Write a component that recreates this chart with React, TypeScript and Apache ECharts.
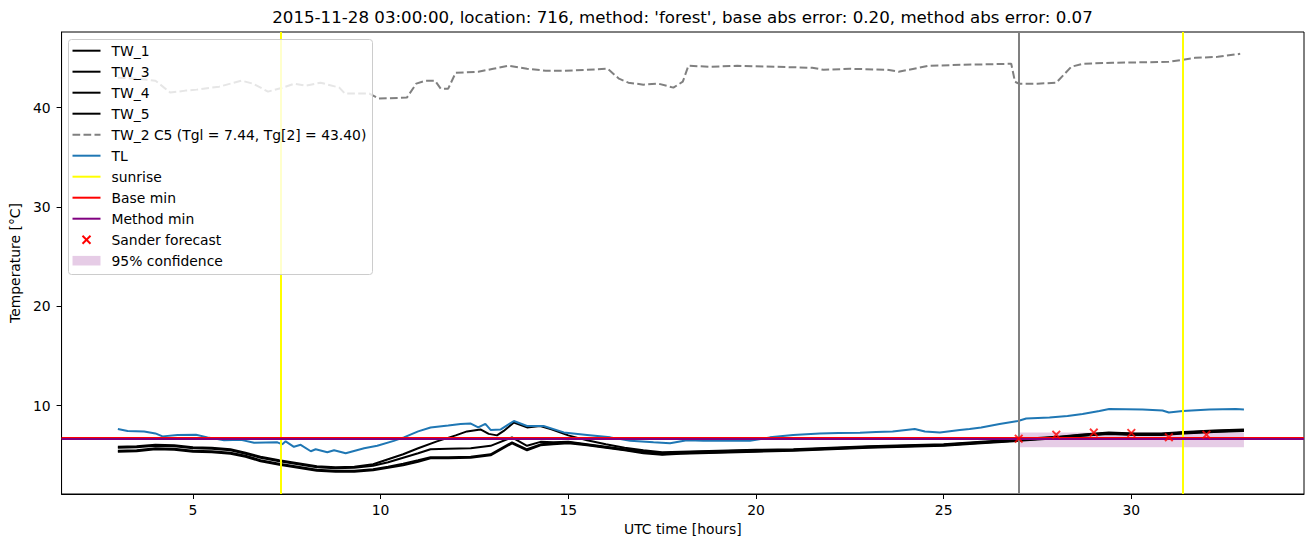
import React, { useEffect, useRef } from 'react';
import * as echarts from 'echarts';

type Pt = [number, number];

// ---- data (hours, °C) ----
const tw1: Pt[] = [[3.0,5.85],[3.5,5.9],[4.0,6.05],[4.5,6.0],[5.0,5.8],[5.5,5.75],[6.0,5.6],[6.4,5.25],[6.8,4.85],[7.3,4.5],[7.8,4.2],[8.3,3.9],[8.8,3.8],[9.3,3.85],[9.8,4.1],[10.2,4.6],[10.6,5.1],[11.0,5.7],[11.5,6.4],[12.0,7.0],[12.3,7.4],[12.66,7.6],[12.88,7.15],[13.1,7.0],[13.28,7.45],[13.55,8.3],[13.9,7.8],[14.25,7.95],[14.55,7.6],[15.0,7.0],[15.5,6.5],[16.0,6.1],[16.5,5.75],[17.0,5.5],[17.5,5.3],[18.0,5.35],[19.0,5.45],[20.0,5.55],[21.0,5.6],[22.0,5.75],[23.0,5.9],[24.0,6.0],[25.0,6.1],[26.0,6.35],[27.0,6.6],[28.0,6.85],[28.7,7.1],[29.4,7.3],[30.1,7.2],[30.8,7.2],[31.4,7.35],[32.2,7.5],[33.0,7.6]];
const tw3: Pt[] = [[3.0,5.75],[3.5,5.8],[4.0,5.95],[4.5,5.9],[5.0,5.7],[5.5,5.65],[6.0,5.5],[6.4,5.15],[6.8,4.75],[7.3,4.4],[7.8,4.1],[8.3,3.8],[8.8,3.7],[9.3,3.75],[9.8,3.95],[10.2,4.3],[10.6,4.75],[11.0,5.2],[11.33,5.6],[11.8,5.65],[12.4,5.7],[12.93,5.95],[13.5,6.8],[13.9,5.95],[14.26,6.35],[14.6,6.3],[15.0,6.35],[15.5,6.1],[16.0,5.85],[16.5,5.6],[17.0,5.4],[17.5,5.2],[18.0,5.3],[19.0,5.4],[20.0,5.5],[21.0,5.55],[22.0,5.7],[23.0,5.85],[24.0,5.95],[25.0,6.05],[26.0,6.3],[27.0,6.55],[28.0,6.8],[28.7,7.05],[29.4,7.25],[30.1,7.15],[30.8,7.15],[31.4,7.3],[32.2,7.45],[33.0,7.55]];
const tw4: Pt[] = [[3.0,5.45],[3.5,5.5],[4.0,5.7],[4.5,5.65],[5.0,5.45],[5.5,5.4],[6.0,5.25],[6.4,4.95],[6.8,4.5],[7.3,4.15],[7.8,3.85],[8.3,3.55],[8.8,3.45],[9.3,3.45],[9.8,3.6],[10.2,3.85],[10.6,4.15],[11.0,4.5],[11.33,4.8],[11.8,4.8],[12.4,4.85],[12.93,5.1],[13.5,6.3],[13.9,5.6],[14.26,6.1],[14.6,6.2],[15.0,6.3],[15.5,6.05],[16.0,5.8],[16.5,5.55],[17.0,5.3],[17.5,5.1],[18.0,5.2],[19.0,5.3],[20.0,5.4],[21.0,5.5],[22.0,5.65],[23.0,5.8],[24.0,5.9],[25.0,6.0],[26.0,6.25],[27.0,6.5],[28.0,6.75],[28.7,7.0],[29.4,7.2],[30.1,7.1],[30.8,7.1],[31.4,7.25],[32.2,7.4],[33.0,7.5]];
const tw5: Pt[] = [[3.0,5.35],[3.5,5.4],[4.0,5.6],[4.5,5.55],[5.0,5.35],[5.5,5.3],[6.0,5.15],[6.4,4.85],[6.8,4.4],[7.3,4.05],[7.8,3.75],[8.3,3.45],[8.8,3.35],[9.3,3.35],[9.8,3.5],[10.2,3.75],[10.6,4.0],[11.0,4.35],[11.33,4.7],[11.8,4.7],[12.4,4.75],[12.93,5.0],[13.5,6.2],[13.9,5.5],[14.26,6.0],[14.6,6.1],[15.0,6.2],[15.5,6.0],[16.0,5.75],[16.5,5.5],[17.0,5.2],[17.5,5.05],[18.0,5.15],[19.0,5.25],[20.0,5.35],[21.0,5.45],[22.0,5.6],[23.0,5.75],[24.0,5.85],[25.0,5.95],[26.0,6.2],[27.0,6.45],[28.0,6.7],[28.7,6.95],[29.4,7.15],[30.1,7.05],[30.8,7.05],[31.4,7.2],[32.2,7.35],[33.0,7.45]];
const tw2: Pt[] = [[3.0,43.0],[3.5,42.9],[4.0,42.7],[4.4,41.5],[4.8,41.7],[5.1,41.8],[5.7,42.1],[6.3,42.7],[6.6,42.4],[7.0,41.6],[7.4,42.0],[7.7,42.4],[8.0,42.2],[8.4,42.5],[8.9,42.0],[9.05,41.4],[9.7,41.4],[9.95,40.9],[10.7,41.0],[10.95,42.4],[11.2,42.7],[11.45,42.7],[11.6,41.9],[11.8,41.9],[12.0,43.5],[12.6,43.6],[13.0,43.9],[13.4,44.2],[13.9,43.9],[14.4,43.7],[14.9,43.7],[15.5,43.8],[16.05,43.9],[16.35,42.9],[16.6,42.5],[17.0,42.3],[17.4,42.4],[17.8,42.0],[18.05,42.6],[18.2,44.2],[18.8,44.1],[19.5,44.2],[20.5,44.1],[21.5,44.0],[21.8,43.8],[22.5,43.9],[23.5,43.8],[23.8,43.6],[24.6,44.2],[25.5,44.3],[26.8,44.4],[26.9,42.6],[27.0,42.4],[27.5,42.4],[28.0,42.5],[28.4,44.1],[28.7,44.4],[29.5,44.5],[31.0,44.6],[31.7,45.0],[32.3,45.1],[32.9,45.4]];
const tl: Pt[] = [[3.0,7.65],[3.26,7.45],[3.7,7.4],[4.0,7.2],[4.19,6.9],[4.59,7.05],[5.08,7.07],[5.39,6.8],[5.83,6.5],[6.28,6.55],[6.63,6.25],[7.25,6.3],[7.38,6.1],[7.47,6.4],[7.69,5.85],[7.87,6.05],[8.14,5.4],[8.27,5.6],[8.58,5.3],[8.76,5.5],[9.07,5.2],[9.56,5.7],[9.91,5.95],[10.35,6.45],[10.62,6.8],[11.0,7.4],[11.33,7.8],[11.8,8.0],[12.13,8.15],[12.39,8.2],[12.6,7.8],[12.79,8.15],[12.93,7.55],[13.2,7.6],[13.55,8.45],[13.9,7.95],[14.34,7.95],[14.88,7.3],[15.5,7.05],[16.12,6.8],[16.65,6.45],[17.27,6.3],[17.71,6.2],[18.16,6.5],[18.6,6.45],[19.2,6.45],[19.84,6.45],[20.37,6.8],[20.99,7.05],[21.7,7.2],[22.2,7.25],[22.77,7.27],[23.2,7.35],[23.64,7.4],[24.23,7.65],[24.5,7.4],[24.9,7.3],[25.43,7.55],[25.69,7.65],[26.0,7.8],[26.49,8.15],[26.98,8.45],[27.2,8.7],[27.82,8.8],[28.3,8.95],[28.7,9.15],[29.15,9.45],[29.41,9.65],[30.3,9.6],[30.83,9.5],[31.0,9.3],[31.37,9.45],[32.08,9.6],[32.78,9.65],[33.0,9.6]];

const sunriseHours = [7.34, 31.36];
const forecastStart = 27.0;
const baseMin = 6.72;
const methodMin = 6.65;
const sanderHours = [27, 28, 29, 30, 31, 32];
const sanderValues = [6.67, 7.07, 7.28, 7.24, 6.8, 7.07];
const confRange = { start: 27, end: 33, low: 5.8, high: 7.28 };

const xTicks = [5, 10, 15, 20, 25, 30];
const yTicks = [10, 20, 30, 40];
const xRange = [1.5, 34.6];
const yRange = [1.1, 47.6];

const titleText = "2015-11-28 03:00:00, location: 716, method: 'forest', base abs error: 0.20, method abs error: 0.07";

const legendItems = [
  { name: 'TW_1', kind: 'line', color: '#000000' },
  { name: 'TW_3', kind: 'line', color: '#000000' },
  { name: 'TW_4', kind: 'line', color: '#000000' },
  { name: 'TW_5', kind: 'line', color: '#000000' },
  { name: 'TW_2 C5 (Tgl = 7.44, Tg[2] = 43.40)', kind: 'dash', color: '#808080' },
  { name: 'TL', kind: 'line', color: '#1f77b4' },
  { name: 'sunrise', kind: 'line', color: '#ffff00' },
  { name: 'Base min', kind: 'line', color: '#ff0000' },
  { name: 'Method min', kind: 'line', color: '#800080' },
  { name: 'Sander forecast', kind: 'x', color: '#ff0000' },
  { name: '95% confidence', kind: 'patch', color: 'rgba(128,0,128,0.2)' },
];

const FONT = '"DejaVu Sans", sans-serif';
const X_SYMBOL = 'path://M0,1.5L1.5,0L5,3.5L8.5,0L10,1.5L6.5,5L10,8.5L8.5,10L5,6.5L1.5,10L0,8.5L3.5,5Z';

function buildLegend() {
  const children: any[] = [];
  const Z = 100;
  const left = 68.5, top = 39.5, w = 304, h = 235;
  children.push({
    type: 'rect', z: Z, shape: { x: left, y: top, width: w, height: h, r: 3 },
    style: { fill: 'rgba(255,255,255,0.8)', stroke: '#cccccc', lineWidth: 1 },
  });
  legendItems.forEach((it, i) => {
    const cy = 50.7 + 21.0 * i;
    const x1 = 72.5, x2 = 100.5;
    if (it.kind === 'line' || it.kind === 'dash') {
      children.push({
        type: 'line', z: Z + 1, shape: { x1, y1: cy, x2, y2: cy },
        style: { stroke: it.color, lineWidth: 2, lineDash: it.kind === 'dash' ? [7.7, 3.3] : null },
      });
    } else if (it.kind === 'x') {
      const cx = (x1 + x2) / 2, s = 4;
      children.push({ type: 'line', z: Z + 1, shape: { x1: cx - s, y1: cy - s, x2: cx + s, y2: cy + s }, style: { stroke: it.color, lineWidth: 2 } });
      children.push({ type: 'line', z: Z + 1, shape: { x1: cx - s, y1: cy + s, x2: cx + s, y2: cy - s }, style: { stroke: it.color, lineWidth: 2 } });
    } else {
      children.push({ type: 'rect', z: Z + 1, shape: { x: x1, y: cy - 4.8, width: x2 - x1, height: 9.6 }, style: { fill: it.color } });
    }
    children.push({
      type: 'text', z: Z + 1, x: 111.5, y: cy,
      style: { text: it.name, font: `13.9px ${FONT}`, fill: '#000', textVerticalAlign: 'middle', textAlign: 'left' },
    });
  });
  return children;
}

function lineSeries(name: string, data: Pt[], color: string, extra: any = {}) {
  return {
    name, type: 'line', data, showSymbol: false, symbol: 'none', silent: true, z: 2,
    lineStyle: { color, width: 2, ...(extra.lineStyle || {}) },
    itemStyle: { color },
    emphasis: { disabled: true },
  };
}

export default function App() {
  const ref = useRef<HTMLDivElement>(null);
  useEffect(() => {
    document.body.style.margin = '0';
    const chart = echarts.init(ref.current!, null, { renderer: 'svg' });
    const axisCommon = {
      type: 'value',
      splitLine: { show: false },
      axisLine: { show: true, lineStyle: { color: '#000', width: 1 } },
      axisTick: { show: true, length: 5, lineStyle: { color: '#000', width: 1 } },
    };
    const option: any = {
      animation: false,
      textStyle: { fontFamily: FONT },
      grid: { left: 61, right: 6, top: 32, bottom: 53, show: true, borderColor: '#000', borderWidth: 1, backgroundColor: 'transparent' },
      xAxis: {
        ...axisCommon,
        min: xRange[0], max: xRange[1],
        axisTick: { ...axisCommon.axisTick, customValues: xTicks },
        axisLabel: { customValues: xTicks, color: '#000', fontSize: 13.9, fontFamily: FONT, margin: 9 },
        name: 'UTC time [hours]', nameLocation: 'middle', nameGap: 28,
        nameTextStyle: { color: '#000', fontSize: 13.9, fontFamily: FONT },
      },
      yAxis: {
        ...axisCommon,
        min: yRange[0], max: yRange[1],
        axisTick: { ...axisCommon.axisTick, customValues: yTicks },
        axisLabel: { customValues: yTicks, color: '#000', fontSize: 13.9, fontFamily: FONT, margin: 11 },
        name: 'Temperature [°C]', nameLocation: 'middle', nameGap: 31,
        nameTextStyle: { color: '#000', fontSize: 13.9, fontFamily: FONT },
      },
      series: [
        {
          name: '95% confidence', type: 'line', data: [], z: 1, silent: true,
          markArea: {
            silent: true, itemStyle: { color: 'rgba(128,0,128,0.2)' },
            data: [[{ xAxis: confRange.start, yAxis: confRange.low }, { xAxis: confRange.end, yAxis: confRange.high }]],
          },
        },
        lineSeries('TW_1', tw1, '#000000'),
        lineSeries('TW_3', tw3, '#000000'),
        lineSeries('TW_4', tw4, '#000000'),
        lineSeries('TW_5', tw5, '#000000'),
        lineSeries('TW_2 C5', tw2, '#808080', { lineStyle: { type: [7.7, 3.3] } }),
        lineSeries('TL', tl, '#1f77b4'),
        {
          name: 'forecast start', type: 'line', data: [], z: 3, silent: true,
          markLine: { silent: true, symbol: ['none', 'none'], label: { show: false }, emphasis: { disabled: true },
            lineStyle: { color: '#808080', width: 2, type: 'solid' }, data: [{ xAxis: forecastStart }] },
        },
        {
          name: 'sunrise', type: 'line', data: [], z: 3, silent: true,
          markLine: { silent: true, symbol: ['none', 'none'], label: { show: false }, emphasis: { disabled: true },
            lineStyle: { color: '#ffff00', width: 2, type: 'solid' }, data: sunriseHours.map((h) => ({ xAxis: h })) },
        },
        {
          name: 'Base min', type: 'line', data: [], z: 4, silent: true,
          markLine: { silent: true, symbol: ['none', 'none'], label: { show: false }, emphasis: { disabled: true },
            lineStyle: { color: '#ff0000', width: 2, type: 'solid' }, data: [{ yAxis: baseMin }] },
        },
        {
          name: 'Method min', type: 'line', data: [], z: 4, silent: true,
          markLine: { silent: true, symbol: ['none', 'none'], label: { show: false }, emphasis: { disabled: true },
            lineStyle: { color: '#800080', width: 2, type: 'solid' }, data: [{ yAxis: methodMin }] },
        },
        {
          name: 'Sander forecast', type: 'scatter', z: 5, silent: true,
          data: sanderHours.map((h, i) => [h, sanderValues[i]]),
          symbol: X_SYMBOL, symbolSize: 9, itemStyle: { color: '#ff0000' },
        },
      ],
      graphic: [
        {
          type: 'text', x: 682.5, y: 17, silent: true,
          style: { text: titleText, font: `16.67px ${FONT}`, fill: '#000', textAlign: 'center', textVerticalAlign: 'middle' },
        },
        ...buildLegend(),
      ],
    };
    chart.setOption(option);
    return () => chart.dispose();
  }, []);
  return <div ref={ref} style={{ width: 1310, height: 547 }} />;
}
